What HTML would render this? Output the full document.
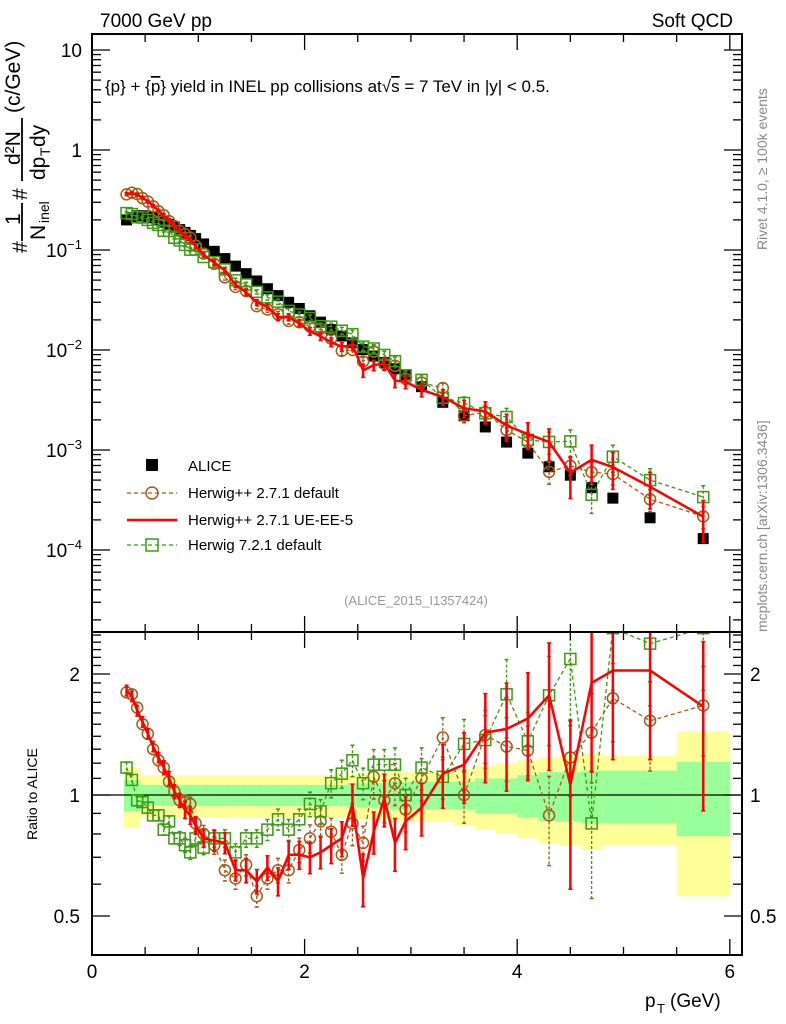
<!DOCTYPE html>
<html><head><meta charset="utf-8">
<style>
body{margin:0;background:#fff;}
svg{display:block;font-family:"Liberation Sans",Arial,sans-serif;}
</style></head>
<body>
<svg id="chart" width="786" height="1024" viewBox="0 0 786 1024" xmlns="http://www.w3.org/2000/svg">
<text x="100" y="27" font-size="19">7000 GeV pp</text>
<text x="733" y="27" font-size="19" text-anchor="end">Soft QCD</text>
<text x="105" y="92" font-size="17">{p} + {<tspan text-decoration="overline">p</tspan>} yield in INEL pp collisions at√<tspan text-decoration="overline">s</tspan> =  7 TeV in |y| &lt; 0.5.</text>
<text transform="translate(767,250) rotate(-90)" font-size="14" fill="#888">Rivet 4.1.0, ≥ 100k events</text>
<text transform="translate(767,632) rotate(-90)" font-size="14" fill="#888">mcplots.cern.ch [arXiv:1306.3436]</text>
<text x="416" y="605" font-size="13" fill="#999" text-anchor="middle">(ALICE_2015_I1357424)</text>
<g transform="translate(20,253) rotate(-90)" font-size="21">
<text x="0" y="7">#</text>
<text x="28" y="0">1</text><line x1="12" y1="2" x2="50" y2="2" stroke="#000" stroke-width="1.8"/>
<text x="13" y="25">N</text><text x="30" y="29" font-size="14">inel</text>
<text x="53" y="7">#</text>
<text x="88" y="0">d²N</text><line x1="72" y1="2" x2="135" y2="2" stroke="#000" stroke-width="1.8"/>
<text x="73" y="25">dp</text><text x="97" y="30" font-size="14">T</text><text x="106" y="25">dy</text>
<text x="140" y="0">(c/GeV)</text></g>
<text transform="translate(37,840) rotate(-90)" font-size="14">Ratio to ALICE</text>
<g><text x="645" y="1007" font-size="19">p</text><text x="657" y="1013" font-size="13">T</text><text x="670" y="1007" font-size="19">(GeV)</text></g>
<g id="main"></g><g id="ratio"></g>
<g>
<g><rect x="146" y="459" width="12" height="12" fill="#000"/><text x="188" y="471" font-size="15">ALICE</text></g>
<g><line x1="127" y1="493" x2="177" y2="493" stroke="#a65a12" stroke-dasharray="4,3" stroke-width="1.3"/><circle cx="152" cy="493" r="6" fill="none" stroke="#a65a12" stroke-width="1.5"/><text x="188" y="498" font-size="15">Herwig++ 2.7.1 default</text></g>
<g><line x1="127" y1="520" x2="177" y2="520" stroke="#f00" stroke-width="2.5"/><text x="188" y="525" font-size="15">Herwig++ 2.7.1 UE-EE-5</text></g>
<g><line x1="127" y1="545" x2="177" y2="545" stroke="#3a9a10" stroke-dasharray="4,3" stroke-width="1.3"/><rect x="146" y="539" width="12" height="12" fill="none" stroke="#3a9a10" stroke-width="1.5"/><text x="188" y="550" font-size="15">Herwig 7.2.1 default</text></g>
</g>
</svg>
<script>
const pT=[0.325,0.375,0.425,0.475,0.525,0.575,0.625,0.675,0.725,0.775,0.825,0.875,0.925,0.975,1.05,1.15,1.25,1.35,1.45,1.55,1.65,1.75,1.85,1.95,2.05,2.15,2.25,2.35,2.45,2.55,2.65,2.75,2.85,2.95,3.1,3.3,3.5,3.7,3.9,4.1,4.3,4.5,4.7,4.9,5.25,5.75];
const binLo=[0.3,0.35,0.4,0.45,0.5,0.55,0.6,0.65,0.7,0.75,0.8,0.85,0.9,0.95,1.0,1.1,1.2,1.3,1.4,1.5,1.6,1.7,1.8,1.9,2.0,2.1,2.2,2.3,2.4,2.5,2.6,2.7,2.8,2.9,3.0,3.2,3.4,3.6,3.8,4.0,4.2,4.4,4.6,4.8,5.0,5.5];
const binHi=[0.35,0.4,0.45,0.5,0.55,0.6,0.65,0.7,0.75,0.8,0.85,0.9,0.95,1.0,1.1,1.2,1.3,1.4,1.5,1.6,1.7,1.8,1.9,2.0,2.1,2.2,2.3,2.4,2.5,2.6,2.7,2.8,2.9,3.0,3.2,3.4,3.6,3.8,4.0,4.2,4.4,4.6,4.8,5.0,5.5,6.0];
const alice=[0.20,0.21,0.22,0.22,0.215,0.21,0.20,0.19,0.18,0.17,0.16,0.15,0.14,0.13,0.115,0.097,0.082,0.069,0.058,0.049,0.041,0.035,0.030,0.026,0.022,0.019,0.016,0.0138,0.0118,0.0101,0.0087,0.0075,0.0065,0.0056,0.0043,0.0030,0.0022,0.0017,0.0012,0.00093,0.00068,0.00056,0.00042,0.00033,0.00021,0.00013];
const ratioHppDef=[1.80,1.78,1.65,1.50,1.42,1.30,1.22,1.17,1.08,1.02,0.97,0.96,0.95,0.85,0.80,0.75,0.65,0.62,0.67,0.56,0.62,0.65,0.65,0.73,0.78,0.86,0.81,0.71,0.85,0.76,1.11,0.97,1.07,0.92,1.10,1.39,1.0,1.41,1.32,1.29,0.89,1.24,1.43,1.74,1.53,1.67];
const ratioHppUE=[1.82,1.76,1.62,1.52,1.42,1.32,1.24,1.17,1.10,1.02,0.97,0.92,0.89,0.84,0.78,0.77,0.76,0.65,0.65,0.61,0.66,0.61,0.71,0.71,0.70,0.72,0.75,0.78,0.95,0.62,0.81,0.98,0.76,0.86,0.93,1.13,1.19,1.43,1.46,1.55,1.77,1.06,1.90,2.04,2.04,1.66];
const ratioH7=[1.17,1.09,0.97,0.96,0.93,0.89,0.89,0.82,0.86,0.78,0.78,0.75,0.72,0.78,0.74,0.78,0.78,0.72,0.78,0.78,0.82,0.87,0.82,0.87,0.95,0.91,1.07,1.13,1.22,1.07,1.19,1.19,1.19,1.0,1.17,1.11,1.34,1.37,1.78,1.36,1.77,2.18,0.85,2.6,2.38,2.6];
const errHppDef=[0.03,0.03,0.03,0.03,0.03,0.03,0.03,0.03,0.03,0.03,0.04,0.04,0.04,0.04,0.05,0.05,0.06,0.06,0.06,0.06,0.06,0.07,0.07,0.07,0.08,0.08,0.08,0.10,0.12,0.10,0.12,0.12,0.12,0.12,0.12,0.12,0.15,0.15,0.18,0.15,0.25,0.20,0.25,0.22,0.25,0.25];
const errHppUE=[0.03,0.03,0.03,0.03,0.03,0.03,0.03,0.04,0.04,0.04,0.04,0.05,0.05,0.05,0.05,0.06,0.06,0.06,0.07,0.07,0.07,0.08,0.08,0.08,0.09,0.09,0.10,0.10,0.12,0.15,0.12,0.15,0.15,0.15,0.15,0.18,0.20,0.25,0.30,0.30,0.35,0.45,0.40,0.40,0.40,0.45];
const errH7=[0.03,0.03,0.03,0.03,0.03,0.03,0.03,0.03,0.03,0.03,0.04,0.04,0.04,0.04,0.04,0.05,0.05,0.05,0.05,0.05,0.06,0.06,0.06,0.06,0.07,0.07,0.08,0.08,0.09,0.09,0.09,0.09,0.10,0.10,0.12,0.12,0.15,0.15,0.22,0.18,0.25,0.30,0.35,0.30,0.30,0.30];
const bandGreen=[0.09,0.09,0.09,0.06,0.06,0.06,0.06,0.06,0.06,0.06,0.06,0.06,0.06,0.06,0.06,0.06,0.06,0.06,0.06,0.06,0.06,0.06,0.06,0.06,0.06,0.06,0.06,0.06,0.07,0.07,0.07,0.07,0.08,0.08,0.08,0.08,0.08,0.10,0.10,0.12,0.14,0.14,0.15,0.15,0.15,0.21];
const bandYellow=[0.17,0.17,0.17,0.12,0.12,0.12,0.12,0.12,0.12,0.12,0.12,0.12,0.12,0.12,0.12,0.12,0.12,0.12,0.12,0.12,0.12,0.12,0.12,0.12,0.12,0.12,0.12,0.12,0.13,0.13,0.13,0.13,0.14,0.14,0.14,0.14,0.16,0.18,0.20,0.22,0.24,0.25,0.27,0.25,0.25,0.44];
const xTicks=[0,2,4,6];
const mainTicks=[1,0,-1,-2,-3,-4];
const ratioTicks=[0.5,1,2];

const NS="http://www.w3.org/2000/svg";
const L=92,R=742,MT=34,MB=632,RB=955;
const X=v=>L+v*106.3;
const YM=v=>150-100*Math.log10(v);
const YR=v=>795-402*Math.log10(v);
function mk(tag,attrs,parent){const e=document.createElementNS(NS,tag);for(const k in attrs)e.setAttribute(k,attrs[k]);parent.appendChild(e);return e;}
const main=document.getElementById('main'), ratio=document.getElementById('ratio');
const defs=mk('defs',{},document.getElementById('chart'));
const c1=mk('clipPath',{id:'cm'},defs);mk('rect',{x:L,y:MT,width:R-L,height:MB-MT},c1);
const c2=mk('clipPath',{id:'cr'},defs);mk('rect',{x:L,y:MB,width:R-L,height:RB-MB},c2);

const bands=mk('g',{'clip-path':'url(#cr)'},ratio);


for(let i=0;i<pT.length;i++){
  const x1=X(binLo[i]),x2=X(binHi[i]);
  const y=mk('rect',{x:x1,y:YR(1+bandYellow[i]),width:x2-x1+0.5,height:YR(1-bandYellow[i])-YR(1+bandYellow[i]),fill:'#ffff99'},bands);
  
  
  const g=mk('rect',{x:x1,y:YR(1+bandGreen[i]),width:x2-x1+0.5,height:YR(1-bandGreen[i])-YR(1+bandGreen[i]),fill:'#99ff99'},bands);
  
  
}
const one=mk('line',{x1:L,x2:R,y1:YR(1),y2:YR(1),stroke:'#000','stroke-width':1.2},ratio);



function series(vals,err,color,dash,width,marker,name){
  [[main,YM,'url(#cm)',true],[ratio,YR,'url(#cr)',false]].forEach(([par,Y,clip,isMain])=>{
    const g=mk('g',{'clip-path':clip},par);
    
    
    const v=vals.map((r,i)=>isMain?r*alice[i]:r);
    const pts=v.map((y,i)=>X(pT[i]).toFixed(1)+','+Y(y).toFixed(1)).join(' ');
    const pl=mk('polyline',{points:pts,fill:'none',stroke:color,'stroke-width':width},g);
    if(dash)pl.setAttribute('stroke-dasharray',dash);
    
    
    v.forEach((y,i)=>{
      const x=X(pT[i]);const e=err[i]*y;
      const eb=mk('line',{x1:x,x2:x,y1:Y(y+e),y2:Y(Math.max(y-e,1e-9)),stroke:color,'stroke-width':marker?1.3:2.5},g);
      if(dash)eb.setAttribute('stroke-dasharray','3,2');
      
      
      [Y(y+e),Y(Math.max(y-e,1e-9))].forEach(yy=>mk('line',{x1:x-2,x2:x+2,y1:yy,y2:yy,stroke:color,'stroke-width':1.5},g));
      let m;
      if(marker==='circle')m=mk('circle',{cx:x,cy:Y(y),r:5.5,fill:'none',stroke:color,'stroke-width':1.5},g);
      else if(marker==='square')m=mk('rect',{x:x-5.5,y:Y(y)-5.5,width:11,height:11,fill:'none',stroke:color,'stroke-width':1.5},g);
      if(m){
      }
    });
  });
}
const ag=mk('g',{'clip-path':'url(#cm)'},main);


alice.forEach((v,i)=>{const r=mk('rect',{x:X(pT[i])-5.5,y:YM(v)-5.5,width:11,height:11,fill:'#000'},ag);
  
  });
series(ratioHppDef,errHppDef,'#a65a12','4,3',1.3,'circle','herwigpp-default');
series(ratioH7,errH7,'#3a9a10','4,3',1.3,'square','herwig7-default');
series(ratioHppUE,errHppUE,'#f00',null,2.5,null,'herwigpp-ueee5');

const ax=mk('g',{},document.getElementById('chart'));


mk('rect',{x:L,y:MT,width:R-L,height:MB-MT,fill:'none',stroke:'#000','stroke-width':2},ax);
mk('rect',{x:L,y:MB,width:R-L,height:RB-MB,fill:'none',stroke:'#000','stroke-width':2},ax);
for(let v=0;v<=6.01;v+=0.5){const x=X(v),major=Math.abs(v%2)<1e-6,len=major?16:8;
  [MT,MB].forEach(y0=>mk('line',{x1:x,x2:x,y1:y0,y2:y0+len,stroke:'#000','stroke-width':1.3},ax));
  mk('line',{x1:x,x2:x,y1:MB,y2:MB-len,stroke:'#000','stroke-width':1.3},ax);
  mk('line',{x1:x,x2:x,y1:RB,y2:RB-len,stroke:'#000','stroke-width':1.3},ax);}
xTicks.forEach(v=>{const t=mk('text',{x:X(v),y:978,'font-size':19,'text-anchor':'middle'},ax);t.textContent=v;
  
  });
for(let d=-5;d<=1;d++){for(let m=1;m<10;m++){const y=YM(m*Math.pow(10,d));if(y<MT||y>MB)continue;const len=m===1?18:9;
  mk('line',{x1:L,x2:L+len,y1:y,y2:y,stroke:'#000','stroke-width':1.3},ax);
  mk('line',{x1:R,x2:R-len,y1:y,y2:y,stroke:'#000','stroke-width':1.3},ax);}}
mainTicks.forEach(d=>{const y=YM(Math.pow(10,d))+7;const t=mk('text',{x:82,y:y,'font-size':19,'text-anchor':'end'},ax);
  if(d===1)t.textContent='10';else if(d===0)t.textContent='1';else{t.textContent='10';const s=mk('tspan',{dy:-8,'font-size':13},t);s.textContent='−'+(-d);}
  
  });
[0.4,0.5,0.6,0.7,0.8,0.9,1,1.1,1.2,1.3,1.4,1.5,1.6,1.7,1.8,1.9,2,2.1,2.2,2.3,2.4,2.5].forEach(v=>{const y=YR(v);if(y<MB||y>RB)return;const len=[0.5,1,2].includes(v)?18:9;
  mk('line',{x1:L,x2:L+len,y1:y,y2:y,stroke:'#000','stroke-width':1.3},ax);
  mk('line',{x1:R,x2:R-len,y1:y,y2:y,stroke:'#000','stroke-width':1.3},ax);});
ratioTicks.forEach(v=>{[[80,'end'],[750,'start']].forEach(([x,a])=>{const t=mk('text',{x:x,y:YR(v)+7,'font-size':19,'text-anchor':a},ax);t.textContent=v;
  
  });});
</script>
</body></html>
